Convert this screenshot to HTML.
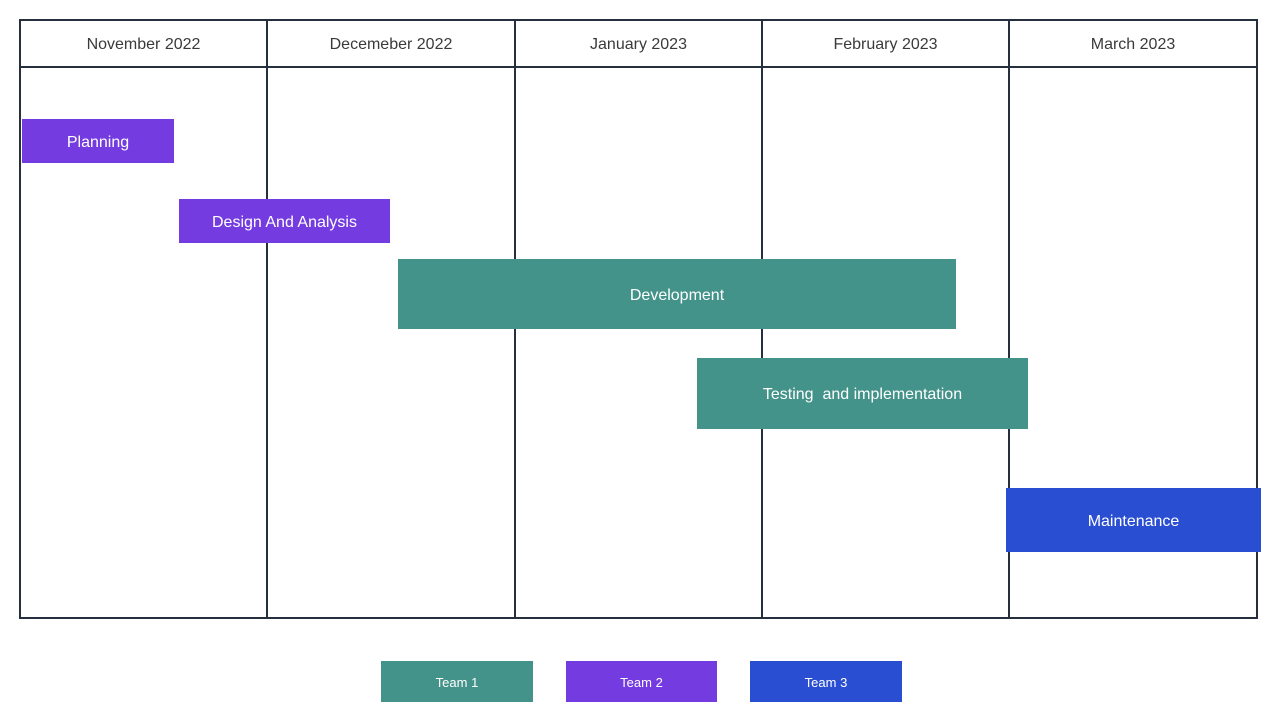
<!DOCTYPE html>
<html><head><meta charset="utf-8"><style>
body{margin:0;width:1280px;height:721px;background:#fff;position:relative;overflow:hidden;font-family:"Liberation Sans",sans-serif}
.l{position:absolute;background:#262f3e}
.h{position:absolute;top:20px;height:47px;line-height:50px;text-align:center;font-size:16px;color:#3a3a3a}
.b{position:absolute;color:#fff;font-size:16px;display:flex;align-items:center;justify-content:center;padding-top:3px;box-sizing:border-box}
.p{background:#743be1}.t{background:#43938a}.u{background:#2a4ed2}
.g{position:absolute;top:661px;height:41px;color:#fff;font-size:13px;display:flex;align-items:center;justify-content:center;padding-top:2px;box-sizing:border-box}
</style></head><body>
<div class="l" style="left:19px;top:19px;width:1239px;height:2px"></div>
<div class="l" style="left:19px;top:66px;width:1239px;height:2px"></div>
<div class="l" style="left:19px;top:617px;width:1239px;height:2px"></div>
<div class="l" style="left:19px;top:19px;width:2px;height:600px"></div>
<div class="l" style="left:266px;top:19px;width:2px;height:600px"></div>
<div class="l" style="left:514px;top:19px;width:2px;height:600px"></div>
<div class="l" style="left:761px;top:19px;width:2px;height:600px"></div>
<div class="l" style="left:1008px;top:19px;width:2px;height:600px"></div>
<div class="l" style="left:1256px;top:19px;width:2px;height:600px"></div>
<div class="h" style="left:20px;width:247px">November 2022</div>
<div class="h" style="left:267px;width:248px">Decemeber 2022</div>
<div class="h" style="left:515px;width:247px">January 2023</div>
<div class="h" style="left:762px;width:247px">February 2023</div>
<div class="h" style="left:1009px;width:248px">March 2023</div>
<div class="b p" style="left:22px;top:119px;width:152px;height:44px">Planning</div>
<div class="b p" style="left:179px;top:199px;width:211px;height:44px">Design And Analysis</div>
<div class="b t" style="left:398px;top:259px;width:558px;height:70px">Development</div>
<div class="b t" style="left:697px;top:358px;width:331px;height:71px">Testing&nbsp; and implementation</div>
<div class="b u" style="left:1006px;top:488px;width:255px;height:64px">Maintenance</div>
<div class="g t" style="left:381px;width:152px">Team 1</div>
<div class="g p" style="left:566px;width:151px">Team 2</div>
<div class="g u" style="left:750px;width:152px">Team 3</div>
</body></html>
